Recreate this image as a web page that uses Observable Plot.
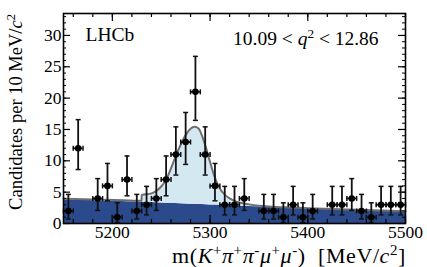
<!DOCTYPE html>
<html>
<head>
<meta charset="utf-8">
<script src="https://cdn.jsdelivr.net/npm/d3@7"></script>
<script src="https://cdn.jsdelivr.net/npm/@observablehq/plot@0.6"></script>
<style>
  html, body { margin: 0; padding: 0; background: #fff; }
  #chart { width: 427px; height: 267px; }
</style>
</head>
<body>
<div id="chart"></div>
<script>
// ---- data ----
const binCenters = [5155, 5165, 5185, 5195, 5205, 5215, 5225, 5235, 5245, 5255, 5265, 5275, 5285, 5295, 5305, 5315, 5325, 5335, 5355, 5365, 5375, 5385, 5395, 5405, 5425, 5435, 5445, 5455, 5465, 5475, 5485, 5495];
const counts     = [2, 12, 4, 6, 1, 7, 2, 3, 4, 7, 11, 13, 21, 11, 6, 3, 3, 4, 2, 2, 1, 3, 1, 2, 3, 3, 4, 2, 1, 3, 3, 3];
const errLow     = [0.71, 8.61, 2.09, 3.62, 0.17, 4.42, 0.71, 1.37, 2.09, 4.42, 7.73, 9.43, 16.45, 7.73, 3.62, 1.37, 1.37, 2.09, 0.71, 0.71, 0.17, 1.37, 0.17, 0.71, 1.37, 1.37, 2.09, 0.71, 0.17, 1.37, 1.37, 1.37];
const errHigh    = [4.64, 16.57, 7.16, 9.58, 3.30, 10.77, 4.64, 5.92, 7.16, 10.77, 15.42, 17.71, 26.66, 15.42, 9.58, 5.92, 5.92, 7.16, 4.64, 4.64, 3.30, 5.92, 3.30, 4.64, 5.92, 5.92, 7.16, 4.64, 3.30, 5.92, 5.92, 5.92];
const binHalfWidth = 5;

const curveMass  = [5150, 5170, 5190, 5210, 5229.9, 5230, 5240, 5245, 5250, 5255, 5260, 5265, 5270, 5275, 5280, 5284, 5288, 5292, 5296, 5300, 5305, 5310, 5315, 5320, 5325, 5330, 5340, 5350, 5360, 5380, 5400, 5450, 5500];
const curveBkg   = [3.80, 3.70, 3.60, 3.50, 3.40, 3.40, 3.35, 3.32, 3.28, 3.25, 3.22, 3.19, 3.16, 3.12, 3.09, 3.07, 3.05, 3.02, 3.00, 2.97, 2.94, 2.91, 2.88, 2.85, 2.82, 2.79, 2.73, 2.67, 2.61, 2.50, 2.40, 2.15, 1.92];
const curveTotal = [3.95, 3.88, 3.80, 3.72, 3.62, 4.55, 4.80, 5.20, 5.90, 7.00, 8.80, 10.8, 12.6, 14.1, 15.1, 15.45, 15.2, 13.9, 12.0, 9.8, 7.3, 5.6, 4.6, 4.0, 3.6, 3.35, 3.05, 2.85, 2.72, 2.56, 2.45, 2.20, 1.97];

const xTickLabels = [5200, 5300, 5400, 5500];
const xMinorTicks = d3.range(5160, 5501, 20);
const yTickLabels = [0, 5, 10, 15, 20, 25, 30];
const yMinorTicks = d3.range(0, 34, 1);

// ---- build tables ----
const points = binCenters.map((m, i) => ({m, n: counts[i], lo: errLow[i], hi: errHigh[i], x1: m - binHalfWidth, x2: m + binHalfWidth}));
const curve = curveMass.map((m, i) => ({m, bkg: curveBkg[i], tot: curveTotal[i]}));

// ---- layout ----
const W = 427, H = 267;
const mL = 63, mR = 22, mT = 13, mB = 44;
const innerW = W - mL - mR, innerH = H - mT - mB;
const FONT = "'Liberation Serif', 'DejaVu Serif', serif";

const hCap = {draw(ctx) { ctx.moveTo(-2.5, 0); ctx.lineTo(2.5, 0); }};
const vCap = {draw(ctx) { ctx.moveTo(0, -2.5); ctx.lineTo(0, 2.5); }};

const plot = Plot.plot({
  width: W, height: H,
  marginLeft: mL, marginRight: mR, marginTop: mT, marginBottom: mB,
  style: {background: "#fff", color: "#000"},
  x: {domain: [5150, 5500]},
  y: {domain: [0, 33.5]},
  marks: [
    Plot.areaY(curve, {x: "m", y1: 0, y2: "bkg", fill: "#2b4a8b", curve: "linear"}),
    Plot.areaY(curve, {x: "m", y1: "bkg", y2: "tot", fill: "#d4e8f1", curve: "linear"}),
    Plot.line(curve, {x: "m", y: "tot", stroke: "#6e6e6e", strokeWidth: 2, curve: "monotone-x"}),
    // ticks inward on all four sides
    Plot.tickX(xMinorTicks, {x: d => d, insetTop: innerH - 4, stroke: "#000", strokeWidth: 1.2}),
    Plot.tickX(xMinorTicks, {x: d => d, insetBottom: innerH - 4, stroke: "#000", strokeWidth: 1.2}),
    Plot.tickX(xTickLabels, {x: d => d, insetTop: innerH - 8, stroke: "#000", strokeWidth: 1.2}),
    Plot.tickX(xTickLabels, {x: d => d, insetBottom: innerH - 8, stroke: "#000", strokeWidth: 1.2}),
    Plot.tickY(yMinorTicks, {y: d => d, insetRight: innerW - 3, stroke: "#000", strokeWidth: 1}),
    Plot.tickY(yMinorTicks, {y: d => d, insetLeft: innerW - 3, stroke: "#000", strokeWidth: 1}),
    Plot.tickY(yTickLabels, {y: d => d, insetRight: innerW - 7, stroke: "#000", strokeWidth: 1.2}),
    Plot.tickY(yTickLabels, {y: d => d, insetLeft: innerW - 7, stroke: "#000", strokeWidth: 1.2}),
    // error bars
    Plot.ruleX(points, {x: "m", y1: "lo", y2: "hi", stroke: "#111", strokeWidth: 1.8}),
    Plot.ruleY(points, {y: "n", x1: "x1", x2: "x2", stroke: "#111", strokeWidth: 1.8}),
    Plot.dot(points, {x: "m", y: "lo", symbol: hCap, stroke: "#111", strokeWidth: 1.5, fill: "none"}),
    Plot.dot(points, {x: "m", y: "hi", symbol: hCap, stroke: "#111", strokeWidth: 1.5, fill: "none"}),
    Plot.dot(points, {x: "x1", y: "n", symbol: vCap, stroke: "#111", strokeWidth: 1.5, fill: "none"}),
    Plot.dot(points, {x: "x2", y: "n", symbol: vCap, stroke: "#111", strokeWidth: 1.5, fill: "none"}),
    Plot.dot(points, {x: "m", y: "n", r: 3.3, fill: "#000", stroke: "none"}),
    Plot.frame({stroke: "#000", strokeWidth: 1.6}),
    Plot.axisX(xTickLabels, {tickSize: 0, tickPadding: 2, fontSize: 17.5, fontFamily: FONT, tickFormat: d3.format("d"), label: null}),
    Plot.axisY(yTickLabels, {tickSize: 0, tickPadding: 2, fontSize: 17.5, fontFamily: FONT, tickFormat: d3.format("d"), label: null}),
    Plot.text(["LHCb"], {frameAnchor: "top-left", dx: 22, dy: 21, fontSize: 19.5, fontFamily: FONT, textAnchor: "start", lineAnchor: "middle", fill: "#000"})
  ]
});

const svg = d3.select(plot);
svg.style("overflow", "visible");
svg.selectAll("text").style("font-family", FONT);

function rich(parent, parts, size) {
  const t = parent.append("text").style("font-family", FONT).attr("font-size", size).attr("fill", "#000");
  for (const p of parts) {
    const s = t.append("tspan").text(p.t);
    if (p.i) s.attr("font-style", "italic");
    if (p.sup) s.attr("baseline-shift", "super").attr("font-size", size * 0.68);
  }
  return t;
}

// y title
rich(svg, [{t: "Candidates per 10 MeV/"}, {t: "c", i: 1}, {t: "2", sup: 1}], 18.5)
  .attr("text-anchor", "end")
  .attr("transform", "translate(22,14) rotate(-90)");

// x title
rich(svg, [
  {t: "m("}, {t: "K", i: 1}, {t: "+", sup: 1}, {t: "π", i: 1}, {t: "+", sup: 1}, {t: "π", i: 1}, {t: "-", sup: 1},
  {t: "μ", i: 1}, {t: "+", sup: 1}, {t: "μ", i: 1}, {t: "-", sup: 1}, {t: ")\u00a0\u00a0[MeV/"}, {t: "c", i: 1}, {t: "2", sup: 1}, {t: "]"}
], 22)
  .attr("text-anchor", "end")
  .attr("letter-spacing", "0.6px")
  .attr("x", 406).attr("y", 263);

// q2 range label
rich(svg, [{t: "10.09 < "}, {t: "q", i: 1}, {t: "2", sup: 1}, {t: " < 12.86"}], 19.5)
  .attr("text-anchor", "start")
  .attr("x", 233).attr("y", 45);

document.getElementById("chart").appendChild(plot);
</script>
</body>
</html>
